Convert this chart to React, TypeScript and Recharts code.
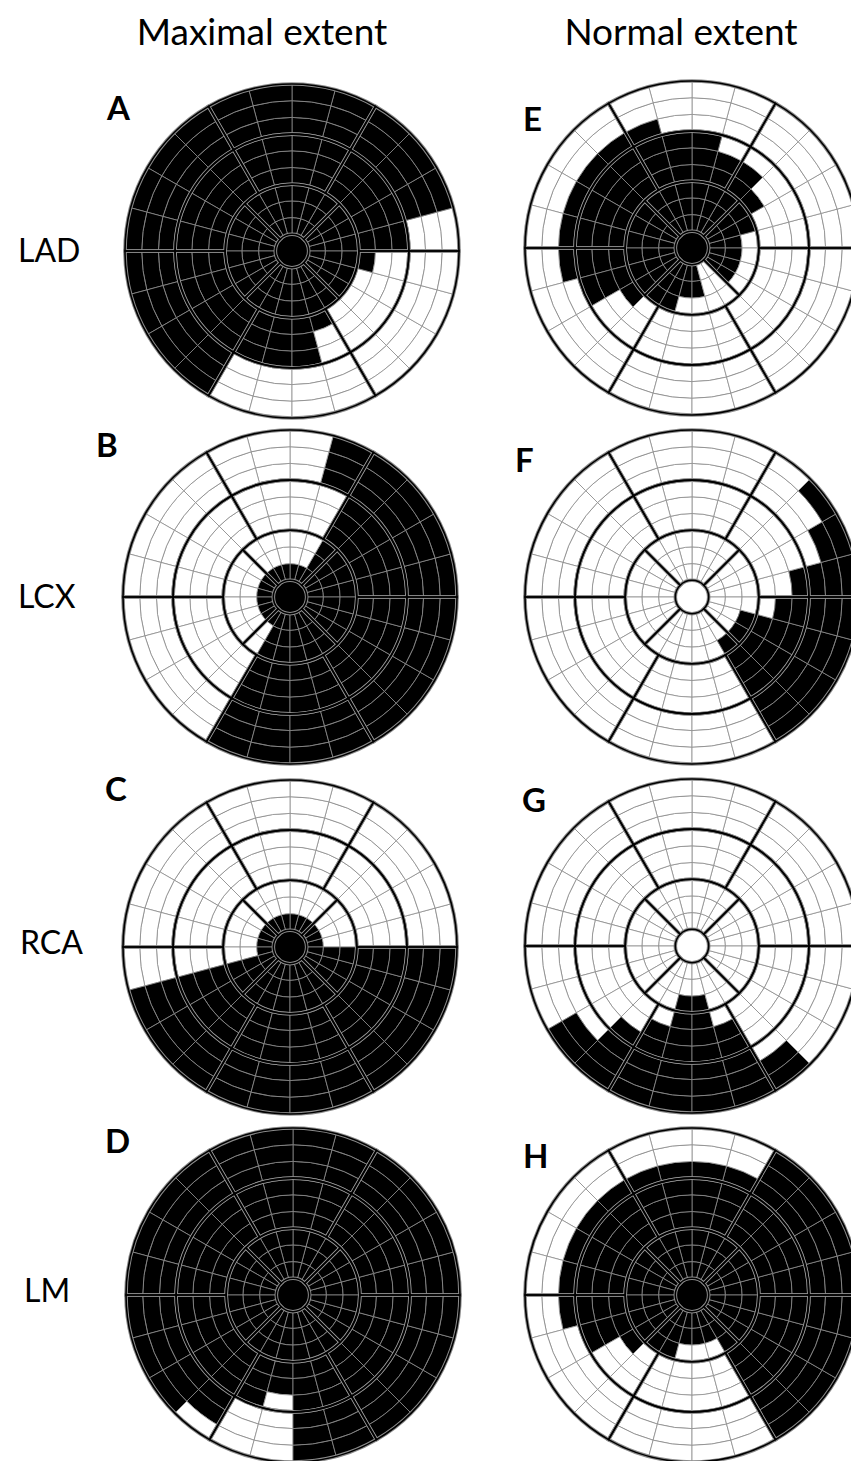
import React from 'react';
import { PieChart, Pie, Cell } from 'recharts';

// Polar maps: 24 sectors of 15° (counter-clockwise from 3 o'clock),
// 9 rings from the apex outwards, plus the apical disc.
// '#' = territory (black), '.' = outside (white)

const columnTitles = ['Maximal extent', 'Normal extent'];
const rowLabels = ['LAD', 'LCX', 'RCA', 'LM'];
const panelLetters = ['A', 'B', 'C', 'D', 'E', 'F', 'G', 'H'];

const centreA = '#';
const ringsA = [
  '########################',
  '########################',
  '########################',
  '####################...#',
  '###################.....',
  '###################.....',
  '.###############........',
  '.###############........',
  '.###############........',
];

const centreB = '#';
const ringsB = [
  '########################',
  '####............########',
  '####............########',
  '####............########',
  '####............########',
  '####............########',
  '#####...........########',
  '#####...........########',
  '#####...........########',
];

const centreC = '#';
const ringsC = [
  '########################',
  '.............###########',
  '.............###########',
  '.............###########',
  '.............###########',
  '.............###########',
  '.............###########',
  '.............###########',
  '.............###########',
];

const centreD = '#';
const ringsD = [
  '########################',
  '########################',
  '########################',
  '########################',
  '########################',
  '#################.######',
  '################..######',
  '################..######',
  '###############...######',
];

const centreE = '#';
const ringsE = [
  '###################..###',
  '###################..###',
  '.################.......',
  '..#############.........',
  '...###########..........',
  '.....#########..........',
  '.......######...........',
  '........................',
  '........................',
];

const centreF = '.';
const ringsF = [
  '........................',
  '........................',
  '....................###.',
  '....................###.',
  '....................####',
  '#...................####',
  '#...................####',
  '##..................####',
  '###.................####',
];

const centreG = '.';
const ringsG = [
  '........................',
  '........................',
  '.................##.....',
  '.................##.....',
  '................####....',
  '...............#####....',
  '...............#####....',
  '..............#######...',
  '..............#######...',
];

const centreH = '#';
const ringsH = [
  '########################',
  '########################',
  '#################...####',
  '###############.....####',
  '##############......####',
  '##############......####',
  '#############.......####',
  '####................####',
  '####................####',
];

const panels = [
  { letter: panelLetters[0], cx: 292, cy: 251, centre: centreA, rings: ringsA, lx: 107, ly: 120 },
  { letter: panelLetters[1], cx: 290, cy: 597, centre: centreB, rings: ringsB, lx: 96, ly: 457 },
  { letter: panelLetters[2], cx: 290, cy: 947, centre: centreC, rings: ringsC, lx: 105, ly: 801 },
  { letter: panelLetters[3], cx: 293, cy: 1295, centre: centreD, rings: ringsD, lx: 105, ly: 1153 },
  { letter: panelLetters[4], cx: 692, cy: 248, centre: centreE, rings: ringsE, lx: 523, ly: 131 },
  { letter: panelLetters[5], cx: 692, cy: 597, centre: centreF, rings: ringsF, lx: 515, ly: 472 },
  { letter: panelLetters[6], cx: 692, cy: 946, centre: centreG, rings: ringsG, lx: 522, ly: 812 },
  { letter: panelLetters[7], cx: 692, cy: 1295, centre: centreH, rings: ringsH, lx: 523, ly: 1168 },
];

const U = 16.7; // radial step in px
const BLACK = '#000';
const WHITE = '#fff';
const GRID = '#8c8c8c';

// 17-segment boundaries: apical 4, mid 6, basal 6
const bands = [
  { inner: 1, outer: 4, parts: 4, start: 45 },
  { inner: 4, outer: 7, parts: 6, start: 0 },
  { inner: 7, outer: 10, parts: 6, start: 0 },
];

function panelPies(p: any) {
  const out: any[] = [];
  out.push(
    <Pie
      key={p.letter + '-c'}
      data={[{ v: 1 }]}
      dataKey="v"
      cx={p.cx}
      cy={p.cy}
      innerRadius={0}
      outerRadius={U}
      startAngle={0}
      endAngle={360}
      isAnimationActive={false}
    >
      <Cell fill={p.centre === '#' ? BLACK : WHITE} stroke="none" />
    </Pie>
  );
  p.rings.forEach((row: string, r: number) => {
    const data = row.split('').map((c, i) => ({ sector: i, v: 1, on: c === '#' }));
    out.push(
      <Pie
        key={p.letter + '-r' + r}
        data={data}
        dataKey="v"
        cx={p.cx}
        cy={p.cy}
        innerRadius={U * (r + 1)}
        outerRadius={U * (r + 2)}
        startAngle={0}
        endAngle={360}
        isAnimationActive={false}
      >
        {data.map((d) => (
          <Cell key={d.sector} fill={d.on ? BLACK : WHITE} stroke={GRID} strokeWidth={0.8} />
        ))}
      </Pie>
    );
  });
  // thick segment lines: grey halo then black core
  [
    { stroke: GRID, w: 3.6 },
    { stroke: BLACK, w: 1.6 },
  ].forEach((pass, k) => {
    bands.forEach((b, j) => {
      const data = Array.from({ length: b.parts }, (_, i) => ({ seg: i, v: 1 }));
      out.push(
        <Pie
          key={p.letter + '-b' + j + '-' + k}
          data={data}
          dataKey="v"
          cx={p.cx}
          cy={p.cy}
          innerRadius={U * b.inner}
          outerRadius={U * b.outer}
          startAngle={b.start}
          endAngle={b.start + 360}
          isAnimationActive={false}
        >
          {data.map((d) => (
            <Cell key={d.seg} fill="none" stroke={pass.stroke} strokeWidth={pass.w} />
          ))}
        </Pie>
      );
    });
  });
  return out;
}

const rowY = [262, 608, 954, 1302];
const rowX = [18, 18, 20, 24];

export default function App() {
  const font = 'Lato, "Open Sans", sans-serif';
  return (
    <div style={{ position: 'relative', width: 851, height: 1461, background: '#fff' }}>
      <style>{'body{margin:0;background:#fff}'}</style>
      <PieChart width={851} height={1461} margin={{ top: 0, right: 0, bottom: 0, left: 0 }}>
        {panels.map((p) => panelPies(p))}
      </PieChart>
      <svg
        width={851}
        height={1461}
        style={{ position: 'absolute', left: 0, top: 0, pointerEvents: 'none' }}
      >
        <text x={262} y={45} textAnchor="middle" fontFamily={font} fontSize={37} fill="#000">
          {columnTitles[0]}
        </text>
        <text x={681} y={45} textAnchor="middle" fontFamily={font} fontSize={37} fill="#000">
          {columnTitles[1]}
        </text>
        {rowLabels.map((t, i) => (
          <text key={t} x={rowX[i]} y={rowY[i]} fontFamily={font} fontSize={32} fill="#000">
            {t}
          </text>
        ))}
        {panels.map((p) => (
          <text key={p.letter} x={p.lx} y={p.ly} fontFamily={font} fontSize={33} fontWeight={700} fill="#000">
            {p.letter}
          </text>
        ))}
      </svg>
    </div>
  );
}
